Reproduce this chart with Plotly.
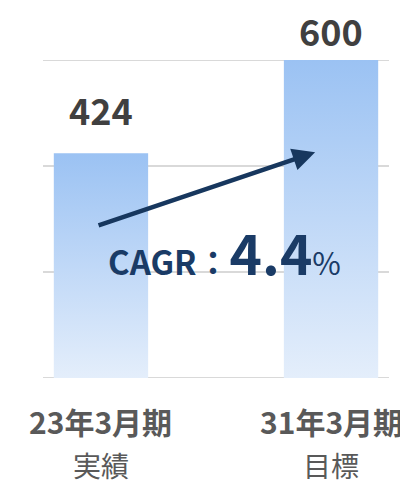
import plotly.graph_objects as go

categories = ["23年3月期", "31年3月期"]
sublabels = ["実績", "目標"]
values = [424, 600]
gridvals = [0, 200, 400, 600]

FONT = "Noto Sans CJK JP"
bar_half = 0.205
top_color = "#9bc2f3"
bottom_color = "#e4eefb"

fig = go.Figure()
for g in gridvals:
    fig.add_shape(type="line", xref="paper", yref="y", x0=0, x1=1, y0=g, y1=g,
                  line=dict(color="#d9d9d9", width=1.8), layer="below")

for i, v in enumerate(values):
    fig.add_trace(go.Scatter(
        x=[i - bar_half, i - bar_half, i + bar_half, i + bar_half, i - bar_half],
        y=[0, v, v, 0, 0],
        mode="lines", line=dict(width=0), fill="toself",
        fillgradient=dict(type="vertical", start=0, stop=v,
                          colorscale=[[0, bottom_color], [1, top_color]]),
        hoverinfo="skip", showlegend=False,
    ))
    shift = 44 if v < max(values) else 30
    fig.add_annotation(x=i, y=v, xref="x", yref="y", text=f"<b>{v}</b>",
                       showarrow=False, yanchor="middle", yshift=shift,
                       font=dict(family=FONT, size=36, color="#404040"))
    fig.add_annotation(x=i, y=-0.134, xref="x", yref="paper",
                       text=f"<b>{categories[i]}</b>", showarrow=False,
                       yanchor="middle", font=dict(family=FONT, size=30, color="#595959"))
    fig.add_annotation(x=i, y=-0.274, xref="x", yref="paper",
                       text=sublabels[i], showarrow=False,
                       yanchor="middle", font=dict(family=FONT, size=28, color="#595959"))

# CAGR arrow
fig.add_annotation(x=0.931, y=426, ax=-0.017, ay=287, xref="x", yref="y",
                   axref="x", ayref="y", text="", showarrow=True,
                   arrowhead=2, arrowsize=1, arrowwidth=4.5, arrowcolor="#17375e")
fig.add_annotation(x=0.535, y=240, xref="x", yref="y", showarrow=False,
                   yanchor="middle",
                   text="<b>CAGR：</b><span style='font-size:55px'><b>4.4</b></span>"
                        "<span style='font-size:31px'>%</span>",
                   font=dict(family=FONT, size=33, color="#1a3b66"))

fig.update_layout(
    width=400, height=477,
    margin=dict(l=35, r=19, t=52, b=107),
    plot_bgcolor="white", paper_bgcolor="white",
    xaxis=dict(range=[-0.252, 1.252], showticklabels=False, showgrid=False,
               zeroline=False, fixedrange=True),
    yaxis=dict(range=[0, 600], showticklabels=False, showgrid=False,
               zeroline=False, fixedrange=True),
    showlegend=False,
)
fig.write_html("out.html")
